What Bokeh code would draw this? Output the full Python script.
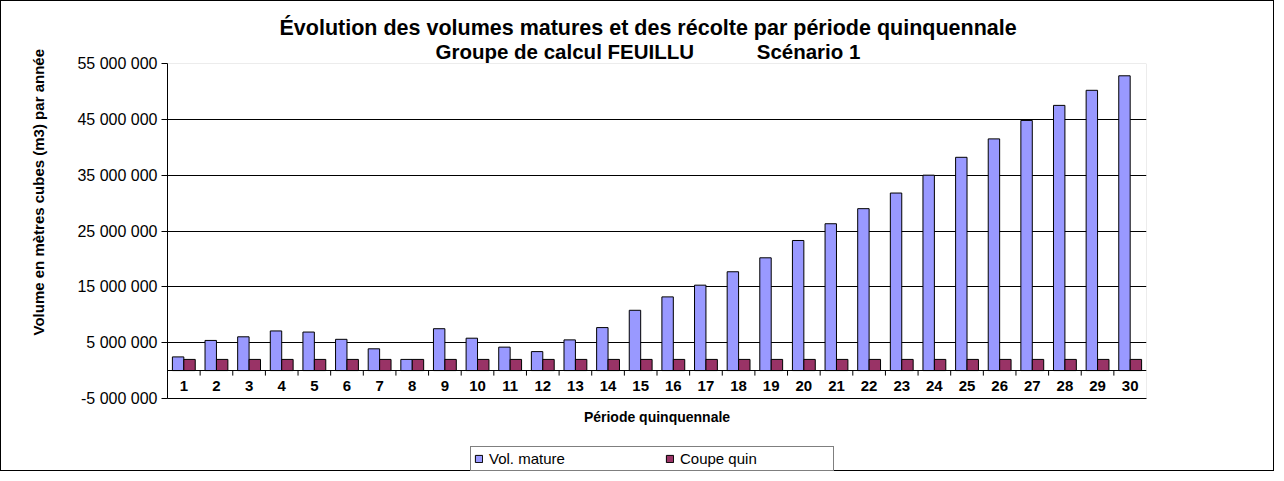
import math
from bokeh.plotting import figure
from bokeh.models import (ColumnDataSource, FactorRange, Range1d, FixedTicker,
                          Title, Legend, LegendItem, Label, BoxAnnotation, Span)
from bokeh.transform import dodge
from bokeh.embed import file_html
from bokeh.resources import INLINE

# ---------------- data ----------------
periods = [str(i) for i in range(1, 31)]
vol_mature = [2450000, 5400000, 6050000, 7100000, 6900000, 5600000, 3900000, 2000000,
              7500000, 5800000, 4200000, 3400000, 5500000, 7700000, 10800000, 13200000,
              15300000, 17700000, 20200000, 23300000, 26300000, 29000000, 31800000,
              35000000, 38200000, 41500000, 44800000, 47500000, 50200000, 52800000]
coupe_quin = [2000000, 2000000, 2000000, 2000000, 2000000, 2000000, 2000000, 2000000,
              2000000, 2000000, 2000000, 2000000, 2000000, 2000000, 2000000, 2000000,
              2000000, 2000000, 2000000, 2000000, 2000000, 2000000, 2000000, 2000000,
              2000000, 2000000, 2000000, 2000000, 2000000, 2000000]
y_ticks = [-5000000, 5000000, 15000000, 25000000, 35000000, 45000000, 55000000]
y_tick_labels = ["-5 000 000", "5 000 000", "15 000 000", "25 000 000",
                 "35 000 000", "45 000 000", "55 000 000"]
series_names = ["Vol. mature", "Coupe quin"]
title_line1 = "Évolution des volumes matures et des récolte par période quinquennale"
title_line2 = "Groupe de calcul FEUILLU" + "\u00a0" * 11 + "Scénario 1"
x_title = "Période quinquennale"
y_title = "Volume en mètres cubes (m3) par année"

FONT = "Liberation Sans"
BLUE = "#9999FF"
MAROON = "#993366"

# layout (pixels inside the figure)
W, H = 1274, 471
FRAME_LEFT, FRAME_RIGHT, FRAME_TOP = 160, 1145, 62
AXIS_BOTTOM = 397          # pixel row of the lowest tick (-5 000 000)
per_px = (y_ticks[-1] - y_ticks[0]) / (AXIS_BOTTOM - FRAME_TOP)
y_start = y_ticks[0] - per_px * (H - AXIS_BOTTOM)   # frame extends down to hold legend

src = ColumnDataSource(dict(period=periods, vol=vol_mature, coupe=coupe_quin))
bsrc = ColumnDataSource(dict(period=periods[1:]))

p = figure(x_range=FactorRange(factors=periods), y_range=Range1d(y_start, y_ticks[-1]),
           width=W, height=H, output_backend="svg", toolbar_location=None,
           min_border_left=FRAME_LEFT, min_border_right=W - FRAME_RIGHT,
           min_border_top=FRAME_TOP, min_border_bottom=0)
p.styles = {"border": "1px solid black"}
p.background_fill_color = "white"
p.border_fill_color = "white"
p.outline_line_color = None

# plot-area border (grey) limited to the value range
p.add_layout(BoxAnnotation(bottom=y_ticks[0], top=y_ticks[-1], fill_color=None, fill_alpha=0,
                           line_color="#808080", line_width=1, level="underlay"))

# grid
p.xgrid.visible = False
p.ygrid.ticker = FixedTicker(ticks=y_ticks[:-1])
p.ygrid.grid_line_color = "black"
p.ygrid.grid_line_width = 1
p.add_layout(Span(location=y_ticks[0], dimension="width", line_color="black", line_width=1))

# y axis
yax = p.yaxis[0]
yax.ticker = FixedTicker(ticks=y_ticks)
yax.bounds = (y_ticks[0], y_ticks[-1])
yax.major_label_overrides = dict(zip(y_ticks, y_tick_labels))
yax.major_tick_out = 6
yax.major_tick_in = 0
yax.minor_tick_line_color = None
yax.axis_line_color = "black"
yax.major_tick_line_color = "black"
yax.major_label_standoff = 4
yax.major_label_text_font = FONT
yax.major_label_text_font_size = "16px"
yax.major_label_text_color = "black"

# x axis crossing at zero
xax = p.xaxis[0]
xax.fixed_location = 0
xax.major_tick_out = 0
xax.major_tick_in = 0
xax.axis_line_color = "black"
xax.major_label_standoff = 10
xax.major_label_text_font = FONT
xax.major_label_text_font_size = "15px"
xax.major_label_text_font_style = "bold"
xax.major_label_text_color = "black"

# category boundary ticks (below the zero line)
p.ray(x=dodge("period", -0.5, range=p.x_range), y=0, length=5, length_units="screen",
      angle=-math.pi / 2, source=bsrc, line_color="black", line_width=1)

# bars
r1 = p.vbar(x=dodge("period", -0.175, range=p.x_range), top="vol", width=0.35, source=src,
            fill_color=BLUE, line_color="black", line_width=1)
r2 = p.vbar(x=dodge("period", 0.175, range=p.x_range), top="coupe", width=0.35, source=src,
            fill_color=MAROON, line_color="black", line_width=1)

# x axis title (inside the extended frame, under the -5 000 000 line)
p.add_layout(Label(x=len(periods) / 2, y=y_ticks[0] - per_px * 18, text=x_title,
                   text_align="center", text_baseline="middle",
                   text_font=FONT, text_font_size="14px", text_font_style="bold",
                   text_color="black"))

# titles
t2 = Title(text=title_line2, align="left", offset=268, standoff=2,
           text_font=FONT, text_font_size="20.5px", text_font_style="bold", text_color="black")
p.add_layout(t2, "above")
t1 = Title(text=title_line1, align="left", offset=112, standoff=-6,
           text_font=FONT, text_font_size="21.5px", text_font_style="bold", text_color="black")
p.add_layout(t1, "above")

# y axis title
ty = Title(text=y_title, align="left", offset=H - 334, vertical_align="middle", standoff=54,
           text_font=FONT, text_font_size="15px", text_font_style="bold", text_color="black")
p.add_layout(ty, "left")

# legend (inside the extended frame, at its bottom)
legend = Legend(items=[LegendItem(label=series_names[0], renderers=[r1]),
                       LegendItem(label=series_names[1], renderers=[r2])],
                orientation="horizontal", location=(303, 1),
                glyph_width=9, glyph_height=9, label_standoff=6, spacing=26,
                label_width=150, padding=3, margin=0,
                border_line_color="black", border_line_width=1,
                background_fill_color="white", background_fill_alpha=1,
                label_text_font=FONT, label_text_font_size="15px", label_text_color="black")
p.add_layout(legend, "center")

open("out.html", "w").write(file_html(p, INLINE))
